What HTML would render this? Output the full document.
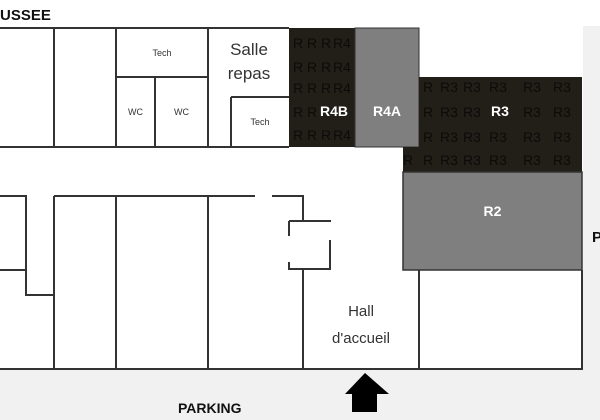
<!DOCTYPE html>
<html><head><style>
body{margin:0;width:600px;height:420px;position:relative;background:#fff;overflow:hidden;font-family:"Liberation Sans",sans-serif}
.a{position:absolute;box-sizing:border-box}
.t{position:absolute;font-size:14px;color:#333;text-align:center;line-height:24px}
.s{font-size:9px;color:#333}
.w{color:#fff;font-weight:bold;font-size:14px}
.p{position:absolute;color:#0b0b09;font-size:14px;line-height:16px;transform:translate(-50%,-50%);white-space:nowrap}
</style></head><body>
<div class="a" style="left:0;top:370px;width:600px;height:50px;background:#f1f1f1"></div>
<div class="a" style="left:583px;top:26px;width:17px;height:394px;background:#f1f1f1"></div>
<div class="t" style="left:0;top:4px;font-weight:bold;font-size:15px;color:#111">USSEE</div>
<div class="t" style="left:178px;top:396px;font-weight:bold;font-size:14px;color:#111">PARKING</div>
<div class="t" style="left:592px;top:226px;font-weight:bold;font-size:15px;color:#111">P</div>
<svg class="a" style="left:0;top:0" width="600" height="420">
<g stroke="#333" stroke-width="2" fill="none">
<path d="M0 28H289M0 147H289M54 28V147M116 28V147M208 28V147M116 77H208M155 77V147M231 97V147M231 97H289"/>
<path d="M0 196H26V295H54M0 270H26M54 196H255M272 196H303V220M54 196V369M116 196V369M208 196V369M303 269V369M0 369H583M419 270V369M582 270V369"/>
<path d="M289 221H331M289 221V236M289 262V269H331M330 240V269"/>
</g>
<rect x="289" y="28" width="66" height="119" fill="#221f19"/>
<rect x="355" y="28" width="64" height="119" fill="#7f7f7f" stroke="#333" stroke-width="1"/>
<rect x="419" y="77" width="163" height="95" fill="#221f19"/>
<rect x="403" y="147" width="20" height="25" fill="#221f19"/>
<rect x="403" y="172" width="179" height="98" fill="#7f7f7f" stroke="#333" stroke-width="1.5"/>
<path d="M365 373L345 394H352V412H377V394H389Z" fill="#000"/>
</svg>
<div id="pat"></div>
<script>
var h='';function s(x,y,t){h+='<div class="p" style="left:'+x+'px;top:'+y+'px">'+t+'</div>';}
[43,67,88,112,135].forEach(function(y,i){s(298,y,'R');s(312,y,'R');if(i!=3){s(326,y,'R');s(342,y,'R4');}});
[87,112,137,160].forEach(function(y,i){s(428,y,'R');s(449,y,'R3');s(472,y,'R3');if(i!=1)s(498,y,'R3');s(532,y,'R3');s(562,y,'R3');if(i==3)s(408,y,'R');});
document.getElementById('pat').innerHTML=h;
</script>
<div class="t s" style="left:116px;top:41px;width:92px">Tech</div>
<div class="t s" style="left:116px;top:100px;width:39px">WC</div>
<div class="t s" style="left:155px;top:100px;width:53px">WC</div>
<div class="t s" style="left:231px;top:110px;width:58px">Tech</div>
<div class="t" style="left:208px;top:38px;width:82px;font-size:17px;line-height:24px">Salle<br>repas</div>
<div class="t w" style="left:312px;top:99px;width:44px">R4B</div>
<div class="t w" style="left:355px;top:99px;width:64px">R4A</div>
<div class="t w" style="left:470px;top:99px;width:60px">R3</div>
<div class="t w" style="left:403px;top:199px;width:179px">R2</div>
<div class="t" style="left:303px;top:298px;width:116px;font-size:15px;line-height:27px">Hall<br>d'accueil</div>
</body></html>
